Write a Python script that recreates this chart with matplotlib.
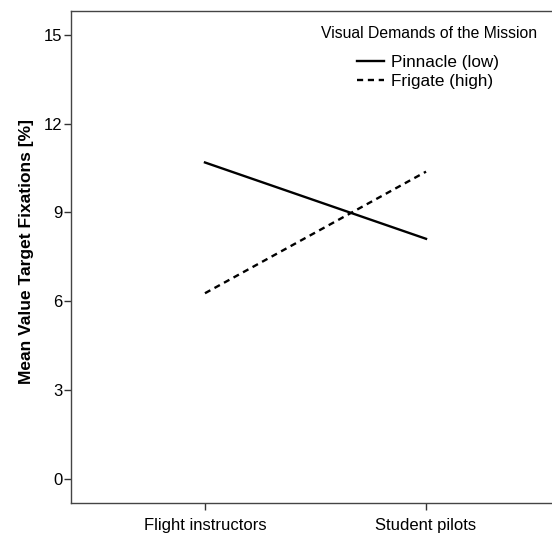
import matplotlib.pyplot as plt

plt.rcParams['font.family'] = ['Liberation Sans', 'DejaVu Sans']

groups = ["Flight instructors", "Student pilots"]
pinnacle = [10.69, 8.11]
frigate = [6.27, 10.38]
yticks = [0, 3, 6, 9, 12, 15]

W, H = 552, 534
fig = plt.figure(figsize=(W / 100, H / 100), dpi=100)
# axes box in pixels: left 71, right beyond image (560), top 11, bottom 503
ax = fig.add_axes([71 / W, (H - 503) / H, (560 - 71) / W, (503 - 11) / H])

x = list(range(len(groups)))
ax.plot(x, pinnacle, color="black", lw=1.7, ls="-", label="Pinnacle (low)")
ax.plot(x, frigate, color="black", lw=1.7, ls=(0, (2.6, 2.0)), label="Frigate (high)")

ax.set_xlim(-0.606, 1.606)
ax.set_ylim(-0.82, 15.81)
ax.set_xticks(x)
ax.set_xticklabels(groups)
ax.set_yticks(yticks)
ax.tick_params(labelsize=12, length=5, color="#333333", width=1)
ax.tick_params(axis="y", pad=1)
ax.tick_params(axis="x", pad=6)

for s in ax.spines.values():
    s.set_color("#444444")
    s.set_linewidth(1)
ax.spines["right"].set_visible(False)

ax.set_ylabel("Mean Value Target Fixations [%]", fontsize=12.5, fontweight="bold")
ax.yaxis.set_label_coords(-(71 - 34) / (560 - 71), 1 - (251.5 - 11) / 492)

# legend title and entries
fig.text(429 / W, 1 - 33 / H, "Visual Demands of the Mission", fontsize=11.3,
         ha="center", va="center")
ax.legend(frameon=False, loc="upper left",
          bbox_to_anchor=(357 / W, 1 - 55 / H), bbox_transform=fig.transFigure,
          fontsize=12.3, handlelength=1.6, handletextpad=0.4,
          labelspacing=0.22, borderpad=0, borderaxespad=0)

fig.savefig("out.png", dpi=100)
